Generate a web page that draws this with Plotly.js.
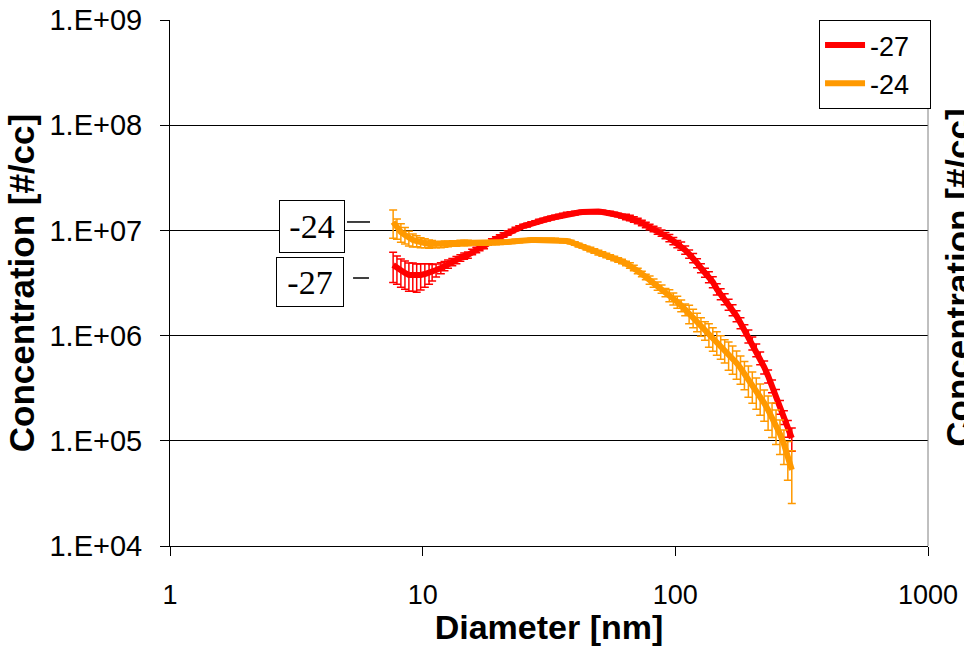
<!DOCTYPE html>
<html>
<head>
<meta charset="utf-8">
<script src="https://cdn.plot.ly/plotly-3.0.1.min.js"></script>
<style>html,body{margin:0;padding:0;background:#fff;}#chart{width:964px;height:646px;}</style>
</head>
<body>
<div id="chart"></div>
<script>
// Diameter channels [nm]
const diameter = [7.64,7.91,8.20,8.51,8.82,9.14,9.47,9.82,10.2,10.6,
  10.9,11.3,11.8,12.2,12.6,13.1,13.6,14.1,14.6,15.1,
  15.7,16.3,16.8,17.5,18.1,18.8,19.5,20.2,20.9,21.7,
  22.5,23.3,24.1,25.0,25.9,26.9,27.9,28.9,30.0,31.1,
  32.2,33.4,34.6,35.9,37.2,38.5,40.0,41.4,42.9,44.5,
  46.1,47.8,49.6,51.4,53.3,55.2,57.3,59.4,61.5,63.8,
  66.1,68.5,71.0,73.7,76.4,79.1,82.0,85.1,88.2,91.4,
  94.7,98.2,101.8,105.5,109.4,113.4,117.6,121.9,126.3,131.0,
  135.8,140.7,145.9,151.2,156.8,162.5,168.5,174.7,181.1,187.7,
  194.6,201.7,209.1,216.7,224.7,232.9,241.4,250.3,259.5,269.0,
  278.8,289.0];

// Series "-27" concentration [#/cc]
const conc27 = [4.69e6,4.39e6,4.11e6,3.94e6,3.77e6,3.77e6,3.69e6,3.77e6,3.85e6,3.94e6,
  4.02e6,4.20e6,4.39e6,4.59e6,4.79e6,5.01e6,5.23e6,5.47e6,5.71e6,5.84e6,
  6.23e6,6.51e6,6.80e6,7.11e6,7.59e6,7.93e6,8.29e6,8.66e6,9.04e6,9.45e6,
  9.87e6,1.031e7,1.066e7,1.101e7,1.125e7,1.163e7,1.189e7,1.229e7,1.256e7,1.283e7,
  1.312e7,1.341e7,1.370e7,1.401e7,1.432e7,1.447e7,1.463e7,1.480e7,1.496e7,1.512e7,
  1.512e7,1.512e7,1.512e7,1.496e7,1.480e7,1.463e7,1.432e7,1.401e7,1.370e7,1.341e7,
  1.312e7,1.269e7,1.229e7,1.176e7,1.125e7,1.077e7,1.031e7,9.87e6,9.45e6,8.94e6,
  8.47e6,7.93e6,7.43e6,7.11e6,6.51e6,5.97e6,5.47e6,4.90e6,4.39e6,3.98e6,
  3.61e6,3.23e6,2.77e6,2.49e6,2.23e6,1.975e6,1.751e6,1.536e6,1.318e6,1.130e6,
  9.91e5,8.50e5,7.30e5,6.13e5,5.03e5,4.13e5,3.32e5,2.67e5,2.10e5,1.68e5,
  1.32e5,1.06e5];

// Series "-24" concentration [#/cc]
const conc24 = [1.202e7,1.054e7,9.66e6,9.04e6,8.47e6,8.10e6,7.93e6,7.67e6,7.59e6,7.43e6,
  7.43e6,7.34e6,7.34e6,7.43e6,7.43e6,7.51e6,7.51e6,7.59e6,7.59e6,7.59e6,
  7.59e6,7.59e6,7.51e6,7.51e6,7.51e6,7.59e6,7.59e6,7.67e6,7.76e6,7.76e6,
  7.84e6,7.93e6,7.93e6,8.02e6,8.02e6,8.10e6,8.10e6,8.10e6,8.10e6,8.10e6,
  8.10e6,8.10e6,8.02e6,7.93e6,7.93e6,7.76e6,7.51e6,7.26e6,7.03e6,6.80e6,
  6.58e6,6.37e6,6.16e6,5.97e6,5.77e6,5.59e6,5.41e6,5.23e6,5.06e6,4.85e6,
  4.64e6,4.39e6,4.11e6,3.85e6,3.61e6,3.38e6,3.16e6,2.96e6,2.77e6,2.57e6,
  2.41e6,2.25e6,2.09e6,1.933e6,1.771e6,1.622e6,1.486e6,1.362e6,1.234e6,1.130e6,
  1.036e6,9.49e5,8.69e5,7.96e5,7.30e5,6.69e5,6.13e5,5.49e5,4.92e5,4.36e5,
  3.87e5,3.39e5,2.97e5,2.61e5,2.29e5,1.963e5,1.68e5,1.444e5,1.160e5,9.32e4,
  7.02e4,5.28e4];

// Error bar sizes, percent of value
const errPct27 = [32,30,30,30,30,30,30,28,25,22,
  18,14,12,10,9,8,8,7,7,7,
  6,6,6,6,5,5,5,5,5,5,
  4,4,4,4,4,4,4,4,4,4,
  4,4,4,4,4,4,4,4,4,4,
  4,4,4,4,4,4,4,4,4,6,
  6,6,6,6,6,6,6,7,7,7,
  8,8,8,9,9,9,10,10,10,10,
  12,12,12,12,12,12,12,12,12,12,
  14,14,14,14,14,14,14,15,15,15,
  18,25];
const errPct24 = [30,22,20,18,16,14,12,11,10,9,
  8,7,7,7,6,6,6,6,6,6,
  4,4,4,4,4,4,4,4,4,4,
  4,4,4,4,4,4,4,4,4,4,
  4,4,4,4,4,4,4,4,4,4,
  5,5,5,5,5,5,5,5,5,5,
  6,6,6,6,6,9,9,9,9,9,
  13,13,13,13,13,20,20,20,20,20,
  25,25,25,25,25,30,30,30,30,30,
  33,33,33,33,33,36,36,36,36,36,
  40,52];

const seriesNames = ['-27', '-24'];
const yTickVals = [1e4,1e5,1e6,1e7,1e8,1e9];
const yTickText = ['1.E+04','1.E+05','1.E+06','1.E+07','1.E+08','1.E+09'];
const xTickVals = [1,10,100,1000];
const xTickText = ['1','10','100','1000'];

const SANS = 'Liberation Sans, Arial, sans-serif';
const SERIF = 'Liberation Serif, Times New Roman, DejaVu Serif, serif';
const PAD = '\u00a0\u00a0';

function errArr(vals, pct){ return vals.map((v,i)=>v*pct[i]/100); }

const traces = [
  {x: diameter, y: conc27, name: seriesNames[0] + PAD, type: 'scatter', mode: 'lines',
   line: {color: '#FF0000', width: 6},
   error_y: {type: 'data', array: errArr(conc27, errPct27), visible: true,
             color: '#FF0000', thickness: 1.5, width: 4}},
  {x: diameter, y: conc24, name: seriesNames[1] + PAD, type: 'scatter', mode: 'lines',
   line: {color: '#FF9900', width: 6},
   error_y: {type: 'data', array: errArr(conc24, errPct24), visible: true,
             color: '#FF9900', thickness: 1.5, width: 4}}
];

const layout = {
  width: 964, height: 646,
  margin: {l: 170, r: 36, t: 20, b: 100, autoexpand: false},
  paper_bgcolor: '#ffffff', plot_bgcolor: '#ffffff',
  showlegend: true,
  legend: {x: 1.004, xanchor: 'right', y: 1, yanchor: 'top',
           bgcolor: '#ffffff', bordercolor: '#000000', borderwidth: 1,
           font: {family: SANS, size: 27, color: '#000'}, itemwidth: 40},
  xaxis: {type: 'log', range: [0, 3], tickvals: xTickVals, ticktext: xTickText,
          showgrid: false, showline: true, linecolor: '#000', linewidth: 1,
          ticks: 'outside', ticklen: 9, tickcolor: '#000', ticklabelstandoff: 16,
          tickfont: {family: SANS, size: 27, color: '#000'},
          title: {text: 'Diameter [nm]', standoff: 2,
                  font: {family: SANS, size: 34, color: '#000', weight: 'bold'}}},
  yaxis: {type: 'log', range: [4, 9], tickvals: yTickVals, ticktext: yTickText,
          showgrid: true, gridcolor: '#000', gridwidth: 1,
          showline: true, linecolor: '#000', linewidth: 1,
          ticks: 'outside', ticklen: 9, tickcolor: '#000', ticklabelstandoff: 12,
          tickfont: {family: SANS, size: 29, color: '#000'},
          title: {text: 'Concentration [#/cc]', standoff: 4,
                  font: {family: SANS, size: 35, color: '#000', weight: 'bold'}}},
  shapes: [
    {type: 'line', xref: 'paper', yref: 'paper', x0: 1, x1: 1, y0: 0, y1: 1,
     line: {color: '#808080', width: 1}},
    {type: 'line', xref: 'paper', yref: 'paper', x0: 0.2335, x1: 0.2639, y0: 0.6160, y1: 0.6160,
     line: {color: '#000', width: 1.5}},
    {type: 'line', xref: 'paper', yref: 'paper', x0: 0.2415, x1: 0.2625, y0: 0.5095, y1: 0.5095,
     line: {color: '#000', width: 1.5}}
  ],
  annotations: [
    {text: '-24', xref: 'paper', yref: 'paper', x: 0.1873, y: 0.6065,
     xanchor: 'center', yanchor: 'middle', showarrow: false,
     font: {family: SERIF, size: 34, color: '#000'},
     bgcolor: '#fff', bordercolor: '#000', borderwidth: 1, borderpad: 1, width: 62, height: 49},
    {text: '-27', xref: 'paper', yref: 'paper', x: 0.1847, y: 0.5019,
     xanchor: 'center', yanchor: 'middle', showarrow: false,
     font: {family: SERIF, size: 34, color: '#000'},
     bgcolor: '#fff', bordercolor: '#000', borderwidth: 1, borderpad: 1, width: 64, height: 46},
    {text: 'Concentration [#/cc]', xref: 'paper', yref: 'paper', x: 1.0409, y: 0.51,
     xanchor: 'center', yanchor: 'middle', showarrow: false, textangle: -90,
     font: {family: SANS, size: 35, color: '#000', weight: 'bold'}}
  ]
};

Plotly.newPlot('chart', traces, layout, {displayModeBar: false, staticPlot: true});
</script>
</body>
</html>
